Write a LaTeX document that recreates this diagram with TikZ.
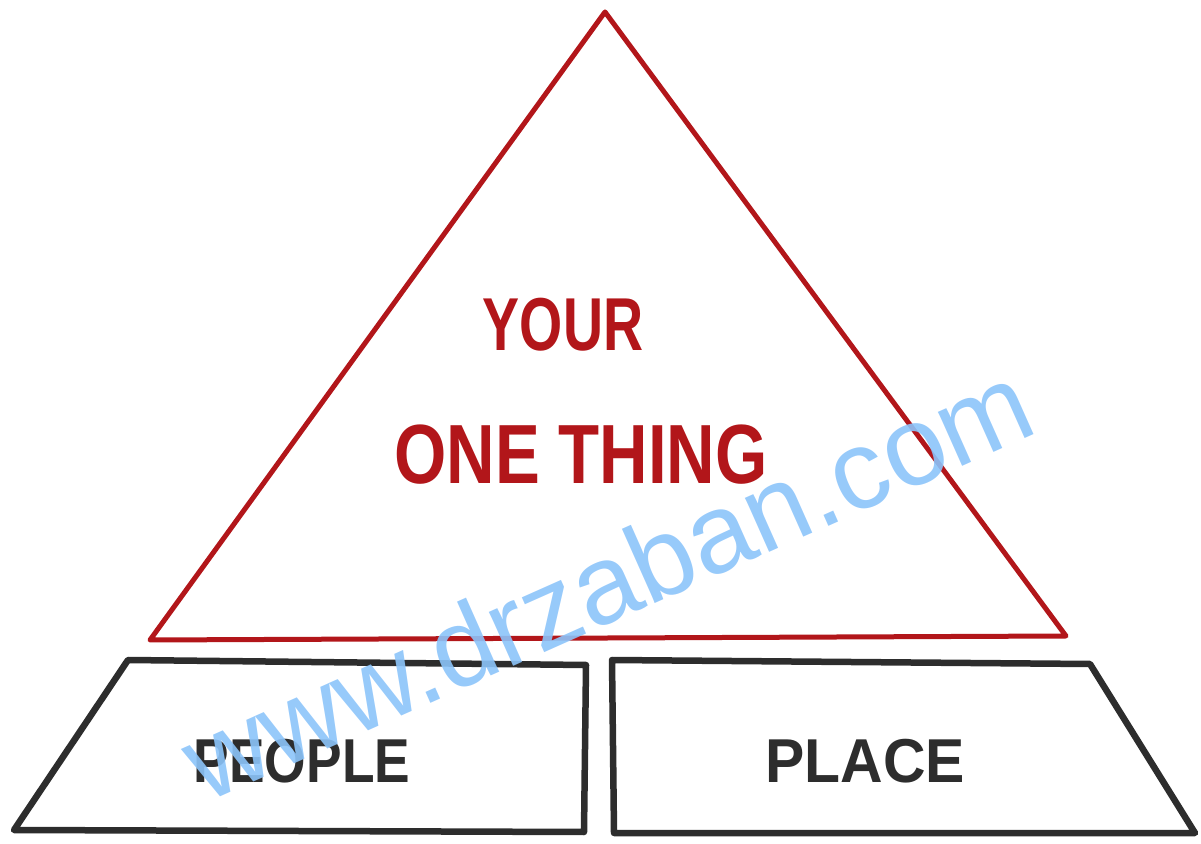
\documentclass[tikz,border=0pt]{standalone}
\usepackage{fontspec}
\setmainfont{Liberation Sans}
\definecolor{penred}{RGB}{178,22,26}
\definecolor{pengray}{RGB}{45,45,45}
\definecolor{wmblue}{RGB}{140,196,250}
\tikzset{
  redline/.style={draw=penred, line width=5pt, line join=round, line cap=round},
  grayline/.style={draw=pengray, line width=6.5pt, line join=round, line cap=round},
  redtext/.style={text=penred, inner sep=0pt, font=\bfseries},
  graytext/.style={text=pengray, inner sep=0pt, font=\bfseries},
}
\begin{document}
\begin{tikzpicture}[x=1pt,y=1pt]
\useasboundingbox (0,0) rectangle (1201,843);
% triangle
\coordinate (apex) at (605,831);
\coordinate (tbl) at (150,203);
\coordinate (tbr) at (1066,207);
\draw[redline] (apex) -- (tbr) -- (tbl) -- cycle;
% left trapezoid
\coordinate (ltl) at (128,183);
\coordinate (ltr) at (586,178);
\coordinate (lbr) at (584,11);
\coordinate (lbl) at (14,13);
\draw[grayline] (ltl) -- (ltr) -- (lbr) -- (lbl) -- cycle;
% right trapezoid
\coordinate (rtl) at (612,183);
\coordinate (rtr) at (1090,179);
\coordinate (rbr) at (1195,10);
\coordinate (rbl) at (614,10);
\draw[grayline] (rtl) -- (rtr) -- (rbr) -- (rbl) -- cycle;
% texts
\node[redtext, font=\fontsize{75}{75}\selectfont\bfseries] (your) at (563,518) {\scalebox{0.74}[1]{YOUR}};
\node[redtext, font=\fontsize{84}{84}\selectfont\bfseries] (one) at (581,388) {\scalebox{0.8}[1]{ONE THING}};
\node[graytext, font=\fontsize{62}{62}\selectfont\bfseries] (people) at (302,82) {\scalebox{0.86}[1]{PEOPLE}};
\node[graytext, font=\fontsize{62}{62}\selectfont\bfseries] (place) at (865,82) {\scalebox{0.95}[1]{PLACE}};
% watermark
\node[text=wmblue, opacity=0.9, inner sep=0pt, rotate=24, font=\fontsize{112}{112}\selectfont] (wm) at (607,262) {www.drzaban.com};
\end{tikzpicture}
\end{document}
